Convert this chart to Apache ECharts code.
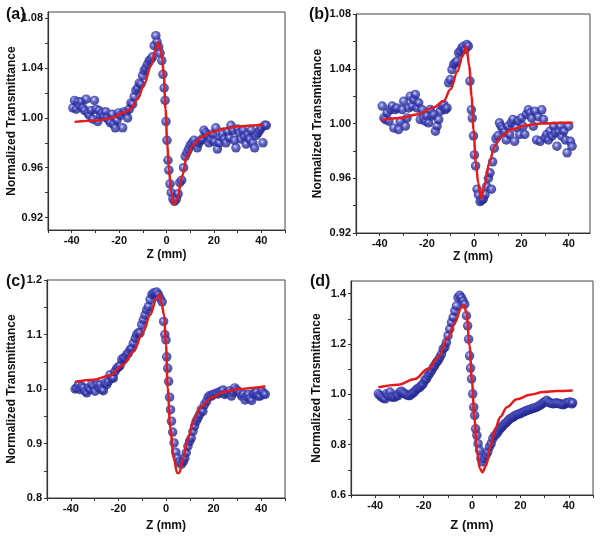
<!DOCTYPE html>
<html><head><meta charset="utf-8">
<script src="https://cdn.jsdelivr.net/npm/echarts@6/dist/echarts.min.js"></script>
<style>html,body{margin:0;padding:0;background:#fff}#c{width:600px;height:540px}</style>
</head><body><div id="c"></div>
<script>
// ---------- Panel (a) ----------
const zA = [-39.5,-38.8,-38.1,-37.4,-36.7,-36.0,-35.3,-34.6,-33.9,-33.2,-32.5,-31.8,-31.1,-30.4,-29.7,-29.0,-28.5,-27.8,-27.1,-26.4,-25.7,-25.0,-24.3,-23.6,-23.0,-22.3,-21.6,-20.9,-20.2,-19.5,-18.5,-17.8,-17.1,-16.4,-15.7,-15.0,-14.3,-13.6,-12.9,-12.2,-11.5,-10.8,-10.1,-9.4,-8.7,-8.0,-7.3,-6.6,-5.9,-5.2,-4.5,-4.0,-3.3,-2.7,-2.0,-1.5,-1.0,-0.6,-0.2,0.2,0.6,1.0,1.5,2.0,2.7,3.4,4.2,4.9,5.6,6.4,7.2,7.9,8.6,9.3,10.0,10.8,11.6,12.4,13.0,13.7,14.4,15.1,15.8,16.5,17.2,17.9,18.6,19.4,20.1,20.8,21.5,22.2,22.9,23.6,24.3,25.1,25.8,26.5,27.2,27.9,28.6,29.3,30.0,30.7,31.5,32.2,32.9,33.6,34.3,35.0,35.7,36.4,37.2,37.9,38.6,39.3,40.0,40.7,41.4,42.1];
const tA = [1.008,1.014,1.007,1.013,1.010,1.013,1.008,1.006,1.015,1.004,1.002,1.006,0.999,1.014,1.007,0.997,1.006,1.002,1.004,1.001,1.005,1.000,0.998,0.996,1.003,0.995,0.992,0.998,1.004,1.002,0.992,1.005,1.004,1.000,1.007,1.012,1.011,1.017,1.022,1.024,1.028,1.027,1.034,1.038,1.040,1.043,1.046,1.047,1.049,1.058,1.066,1.061,1.057,1.052,1.046,1.035,1.024,1.014,0.997,0.982,0.966,0.958,0.947,0.940,0.935,0.933,0.935,0.939,0.948,0.950,0.960,0.969,0.972,0.975,0.978,0.980,0.982,0.979,0.976,0.980,0.982,0.983,0.990,0.988,0.986,0.980,0.983,0.987,0.981,0.992,0.975,0.980,0.985,0.987,0.983,0.980,0.989,0.984,0.994,0.990,0.982,0.976,0.991,0.988,0.983,0.990,0.985,0.979,0.987,0.983,0.990,0.980,0.976,0.986,0.988,0.990,0.992,0.980,0.994,0.994];
const fzA = [-38.8,-29,-23.4,-17.8,-15,-12.2,-9.4,-6.6,-4.5,-3.5,-2.6,-1.8,-1.1,-0.4,0.3,1.0,2.0,3.1,4.5,6.6,8.7,11.5,14.4,18.6,24.3,29.9,35.5,41.1];
const ftA = [0.9968,0.998,1.000,1.0043,1.0075,1.015,1.027,1.042,1.055,1.0607,1.056,1.047,1.033,1.007,0.980,0.9587,0.940,0.9305,0.9346,0.9533,0.9694,0.9788,0.9842,0.9882,0.9914,0.993,0.9938,0.9944];

// ---------- Panel (b) ----------
const zB = [-38.9,-38.2,-37.5,-36.8,-36.1,-35.4,-34.7,-34.0,-33.4,-32.7,-32.0,-31.3,-30.5,-29.8,-29.1,-28.4,-27.7,-27.0,-26.3,-25.6,-24.9,-24.2,-23.5,-22.8,-22.1,-21.4,-20.7,-20.0,-19.3,-18.6,-17.9,-17.1,-16.4,-15.7,-15.0,-14.3,-13.6,-12.9,-12.2,-11.5,-10.8,-10.1,-9.4,-8.7,-8.0,-7.3,-6.6,-5.9,-5.2,-4.5,-3.8,-3.1,-2.5,-1.8,-1.2,-0.8,-0.3,0.1,0.6,1.2,1.8,2.5,3.2,3.9,4.6,5.3,6.0,6.7,7.3,7.8,8.5,9.2,10.0,10.7,11.4,12.1,12.9,13.6,14.3,15.0,15.7,16.4,17.1,17.9,18.6,19.3,20.0,20.7,21.4,22.1,22.9,23.6,24.3,25.0,25.7,26.4,27.1,27.9,28.6,29.3,30.0,30.7,31.4,32.1,32.9,33.6,34.3,35.0,35.7,36.4,37.1,37.9,38.6,39.3,40.0,40.7,41.4];
const tB = [1.0127,1.0041,1.0029,1.0078,1.0017,1.0102,1.0127,0.9968,1.0102,1.0114,0.9956,1.0017,1.0102,1.0163,0.9981,1.0041,1.0114,1.0200,1.0127,1.0175,1.0212,1.0114,1.0151,1.0029,1.0102,1.0041,1.0017,1.0054,1.0005,1.0102,1.0054,1.0066,0.9944,0.9981,1.0029,1.0090,1.0127,1.0139,1.0102,1.0114,1.0297,1.0321,1.0394,1.0431,1.0443,1.0455,1.0516,1.0528,1.0552,1.0564,1.0540,1.0577,1.0565,1.031,1.010,1.004,0.991,0.977,0.969,0.952,0.948,0.943,0.944,0.945,0.948,0.954,0.960,0.964,0.952,0.972,0.982,0.989,0.991,1.0005,0.998,0.996,0.994,0.988,0.998,0.992,1.0005,1.003,0.987,0.997,1.002,0.992,1.004,0.998,0.992,1.0066,1.010,1.0078,1.0041,0.998,1.009,0.988,1.005,0.987,1.010,1.003,0.9895,0.992,0.988,0.9944,0.9907,0.998,0.993,0.9834,0.9944,0.998,0.9907,0.9944,0.988,0.9786,0.998,0.987,0.9834];
const fzB = [-39.3,-31.4,-24.3,-17.1,-12.9,-10,-7.1,-5,-3.3,-2.1,-1.1,-0.3,0.7,1.7,2.9,4.3,6.4,8.6,11.4,15.7,21.4,28.6,37.1,41.7];
const ftB = [1.0024,1.004,1.0066,1.0117,1.0165,1.025,1.038,1.049,1.0565,1.042,1.020,0.9956,0.9713,0.9567,0.9452,0.9542,0.9713,0.9834,0.9907,0.9956,0.9985,1.000,1.0005,1.0005];

// ---------- Panel (c) ----------
const zC = [-38.2,-37.5,-36.8,-36.1,-35.4,-34.7,-34.0,-33.3,-32.6,-31.9,-31.2,-30.5,-29.8,-29.0,-28.3,-27.7,-27.0,-26.3,-25.6,-24.9,-24.2,-23.5,-22.8,-22.1,-21.4,-20.7,-20.0,-19.3,-18.6,-17.9,-17.2,-16.5,-15.8,-15.1,-14.4,-13.7,-12.9,-12.3,-11.6,-10.9,-10.2,-9.5,-8.8,-8.1,-7.4,-6.7,-5.9,-5.3,-4.6,-3.9,-3.2,-2.5,-1.6,-1.0,-0.5,0.0,0.3,0.7,1.1,1.5,1.9,2.3,2.8,3.4,4.1,4.8,5.7,6.5,7.3,7.9,8.5,9.2,9.9,10.6,11.3,12.0,12.7,13.4,14.1,14.8,15.5,16.1,17.0,17.7,18.4,19.1,19.8,20.5,21.2,21.9,22.6,23.3,24.0,24.7,25.4,26.1,26.8,27.5,28.2,28.9,29.6,30.4,31.1,31.8,32.5,33.2,33.9,34.6,35.3,36.0,36.7,37.4,38.1,38.8,39.5,40.3,41.0,41.7];
const tC = [1.000,1.002,1.008,0.999,1.005,1.002,0.996,0.993,1.002,0.999,1.008,1.005,0.996,1.008,1.002,1.008,0.999,0.997,1.011,1.008,1.014,1.026,1.020,1.020,1.032,1.038,1.040,1.043,1.054,1.057,1.057,1.063,1.066,1.072,1.075,1.084,1.093,1.100,1.103,1.103,1.118,1.127,1.136,1.145,1.151,1.164,1.173,1.176,1.176,1.178,1.173,1.167,1.160,1.124,1.100,1.090,1.059,1.038,1.014,0.985,0.962,0.941,0.921,0.901,0.884,0.874,0.866,0.862,0.867,0.873,0.883,0.895,0.904,0.910,0.922,0.932,0.941,0.947,0.953,0.962,0.959,0.971,0.977,0.985,0.988,0.987,0.990,0.991,0.992,0.991,0.995,0.996,0.998,0.990,0.992,0.993,0.997,0.987,0.994,1.002,0.998,0.996,0.992,0.987,0.991,0.980,0.986,0.990,0.983,0.979,0.991,0.993,0.995,0.987,0.987,0.996,0.992,0.990];
const fzC = [-38.2,-30.5,-23.5,-17.9,-13.7,-9.5,-6.7,-3.9,-2.7,-1.8,-0.8,0,0.7,1.8,3.2,4.7,5.6,7.1,9.2,12,14.8,19.1,24.7,30.4,36,41.7];
const ftC = [1.013,1.017,1.025,1.045,1.069,1.106,1.136,1.167,1.174,1.156,1.135,1.081,1.002,0.929,0.874,0.846,0.846,0.871,0.910,0.947,0.968,0.984,0.995,0.9994,1.002,1.005];

// ---------- Panel (d) ----------
const zD = [-38.7,-38.0,-37.3,-36.6,-35.9,-35.3,-34.6,-33.9,-33.2,-32.5,-31.8,-31.1,-30.5,-29.8,-29.1,-28.4,-27.7,-27.0,-26.3,-25.7,-25.0,-24.3,-23.6,-22.9,-22.2,-21.5,-20.9,-20.2,-19.5,-18.8,-18.1,-17.4,-16.7,-16.0,-15.4,-14.7,-14.0,-13.3,-12.6,-11.9,-11.2,-10.6,-9.9,-9.2,-8.5,-7.8,-7.1,-6.4,-5.8,-5.1,-4.4,-3.7,-3.0,-2.3,-1.8,-1.4,-1.0,-0.6,-0.2,0.3,0.7,1.1,1.5,2.0,2.5,3.1,3.7,4.4,5.1,5.8,6.5,7.2,7.9,8.6,9.4,10.3,11.0,11.7,12.4,13.0,13.7,14.4,15.1,15.8,16.5,17.1,17.8,18.5,19.2,19.9,20.6,21.3,22.0,22.6,23.3,24.0,24.7,25.4,26.0,26.7,27.4,28.1,28.8,29.5,30.2,30.9,31.6,32.2,32.9,33.6,34.3,35.0,35.7,36.4,37.1,37.7,38.4,39.1,39.8,40.5,41.2,41.6];
const tD = [1.002,0.995,0.989,0.985,0.982,1.002,0.995,1.009,0.989,0.989,0.989,0.998,0.995,1.009,1.012,1.006,1.002,0.998,0.995,0.995,1.002,1.006,1.012,1.020,1.024,1.028,1.035,1.041,1.055,1.061,1.074,1.085,1.094,1.107,1.114,1.127,1.134,1.147,1.160,1.180,1.187,1.206,1.233,1.259,1.285,1.305,1.331,1.351,1.384,1.393,1.384,1.371,1.358,1.312,1.272,1.219,1.153,1.104,1.061,1.002,0.949,0.916,0.863,0.837,0.804,0.778,0.745,0.732,0.745,0.758,0.771,0.791,0.804,0.824,0.836,0.844,0.855,0.864,0.871,0.877,0.884,0.890,0.897,0.903,0.907,0.910,0.915,0.919,0.921,0.923,0.927,0.930,0.933,0.936,0.938,0.940,0.943,0.945,0.947,0.949,0.953,0.956,0.961,0.966,0.971,0.976,0.970,0.966,0.964,0.962,0.964,0.966,0.963,0.962,0.960,0.958,0.962,0.966,0.967,0.969,0.962,0.966];
const fzD = [-38.7,-30.5,-23.6,-18.1,-14,-9.9,-7.1,-4.4,-3.3,-2.3,-1,0,1,2.1,3.2,4.3,5.9,7.5,9.6,11.7,14.4,18.5,24,29.5,35,41.6];
const ftD = [1.028,1.038,1.061,1.101,1.147,1.226,1.285,1.344,1.355,1.325,1.193,1.05,0.903,0.771,0.706,0.690,0.719,0.791,0.864,0.910,0.949,0.980,0.998,1.009,1.013,1.015];

// ---------- Axes ticks / labels ----------
const xTicks = [-50,-40,-30,-20,-10,0,10,20,30,40,50];
const xTickLabels = [-40,-20,0,20,40];
const yTicksAB = [0.92,0.94,0.96,0.98,1.00,1.02,1.04,1.06,1.08];
const yLabelsAB = [0.92,0.96,1.00,1.04,1.08];
const yTicksC = [0.8,0.85,0.9,0.95,1.0,1.05,1.1,1.15,1.2];
const yLabelsC = [0.8,0.9,1.0,1.1,1.2];
const yTicksD = [0.6,0.7,0.8,0.9,1.0,1.1,1.2,1.3,1.4];
const yLabelsD = [0.6,0.8,1.0,1.2,1.4];
const panelNames = ['(a)','(b)','(c)','(d)'];
const xName = 'Z (mm)';
const yName = 'Normalized Transmittance';

const FONT = 'Arial, "Liberation Sans", sans-serif';
const panels = [
  {grid:{left:48,top:12,width:237,height:218}, xMin:-50,xMax:50, yMin:0.91,yMax:1.085, yT:yTicksAB, yL:yLabelsAB, dec:2, z:zA,t:tA,fz:fzA,ft:ftA, yGap:29, xGap:19, xFs:12, lx:1, ly:2},
  {grid:{left:356,top:14,width:234,height:219}, xMin:-50,xMax:49, yMin:0.92,yMax:1.08, yT:yTicksAB, yL:yLabelsAB, dec:2, z:zB,t:tB,fz:fzB,ft:ftB, yGap:32, xGap:18, xFs:12, lx:304, ly:2},
  {grid:{left:47,top:280,width:238,height:218}, xMin:-50,xMax:50, yMin:0.8,yMax:1.2, yT:yTicksC, yL:yLabelsC, dec:1, z:zC,t:tC,fz:fzC,ft:ftC, yGap:29, xGap:22, xFs:12, lx:1, ly:269},
  {grid:{left:351,top:281,width:242,height:214}, xMin:-50,xMax:50, yMin:0.6,yMax:1.45, yT:yTicksD, yL:yLabelsD, dec:1, z:zD,t:tD,fz:fzD,ft:ftD, yGap:28, xGap:24, xFs:13, lx:305, ly:269}
];

const sphere = new echarts.graphic.RadialGradient(0.42, 0.38, 0.62, [
  {offset:0, color:'#f4f4ff'},
  {offset:0.18, color:'#7f84e0'},
  {offset:0.5, color:'#3439ad'},
  {offset:1, color:'#1e2184'}
]);

const option = {
  backgroundColor:'#ffffff',
  animation:false,
  title: panels.map((p,i)=>({text:panelNames[i], left:p.lx, top:p.ly, textStyle:{fontFamily:FONT,fontWeight:700,fontSize:16,color:'#111'}})),
  grid: panels.map(p=>Object.assign({show:true,borderColor:'#444',borderWidth:1,backgroundColor:'transparent',containLabel:false},p.grid)),
  xAxis: panels.map((p,i)=>({
    type:'value', gridIndex:i, min:p.xMin, max:p.xMax,
    name:xName, nameLocation:'middle', nameGap:p.xGap,
    nameTextStyle:{fontFamily:FONT,fontWeight:700,fontSize:p.xFs,color:'#111'},
    axisLine:{show:true,onZero:false,lineStyle:{color:'#333',width:1.2}},
    axisTick:{show:true,inside:false,length:3,customValues:xTicks,lineStyle:{color:'#333'}},
    axisLabel:{customValues:xTickLabels,margin:5,fontFamily:FONT,fontWeight:700,fontSize:11,color:'#111'},
    splitLine:{show:false}
  })),
  yAxis: panels.map((p,i)=>({
    type:'value', gridIndex:i, min:p.yMin, max:p.yMax,
    name:yName, nameLocation:'middle', nameGap:p.yGap, nameRotate:90,
    nameTextStyle:{fontFamily:FONT,fontWeight:700,fontSize:12,color:'#111'},
    axisLine:{show:true,onZero:false,lineStyle:{color:'#333',width:1.2}},
    axisTick:{show:true,inside:false,length:3,customValues:p.yT,lineStyle:{color:'#333'}},
    axisLabel:{customValues:p.yL,margin:5,fontFamily:FONT,fontWeight:700,fontSize:11,color:'#111',
      formatter:(v)=>Number(v).toFixed(p.dec)},
    splitLine:{show:false}
  })),
  series: []
};
panels.forEach((p,i)=>{
  option.series.push({
    type:'scatter', xAxisIndex:i, yAxisIndex:i, symbolSize:9.5, z:2,
    itemStyle:{color:sphere, borderWidth:0},
    data:p.z.map((z,k)=>[z,p.t[k]])
  });
  option.series.push({
    type:'line', xAxisIndex:i, yAxisIndex:i, showSymbol:false, smooth:0.35, smoothMonotone:'x', z:3,
    lineStyle:{color:'#e31b1b',width:2.5},
    data:p.fz.map((z,k)=>[z,p.ft[k]])
  });
});
const chart = echarts.init(document.getElementById('c'), null, {renderer:'canvas'});
chart.setOption(option);
</script>
</body></html>
